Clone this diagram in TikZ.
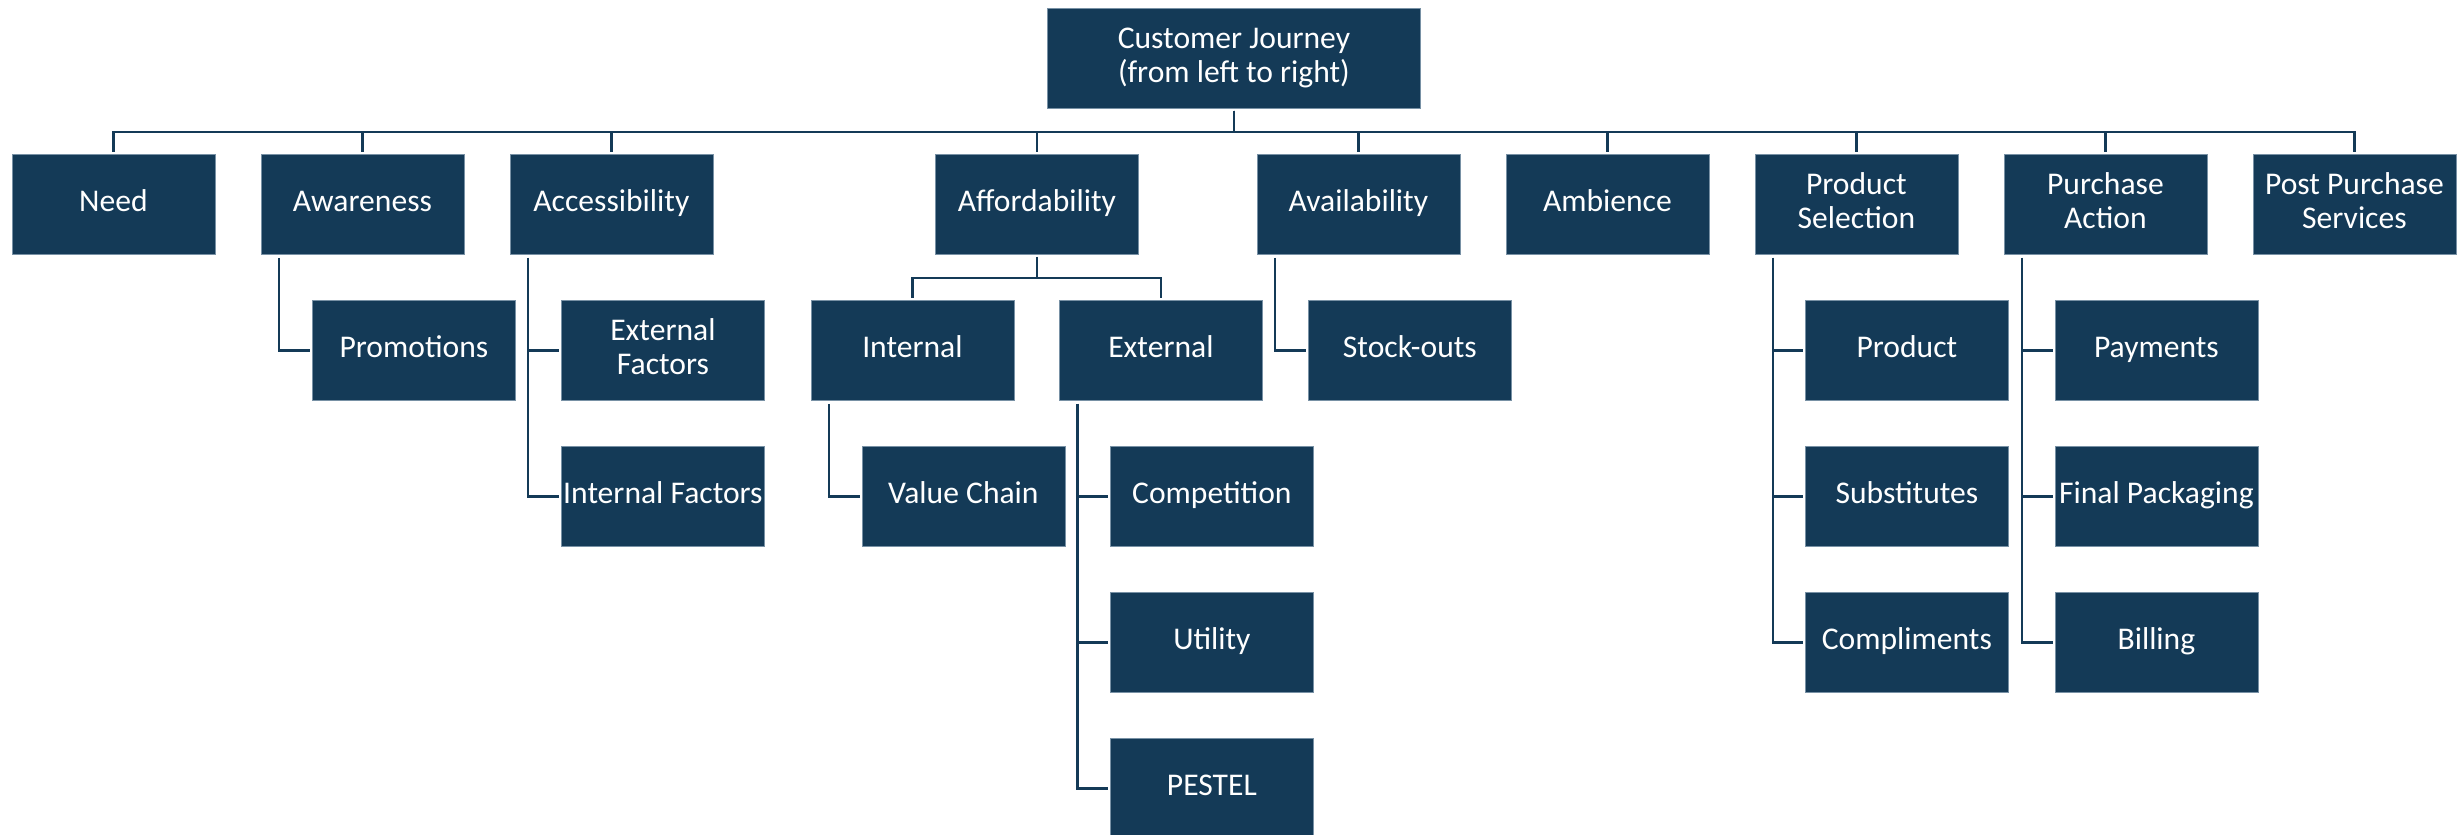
\documentclass[tikz,border=0pt]{standalone}
\usepackage{fontspec}
\setmainfont{Carlito}
\usetikzlibrary{calc}
\definecolor{boxblue}{RGB}{20,58,87}
\definecolor{boxrim}{RGB}{120,145,165}
\newcommand\boxstrut{\rule[-3.4pt]{0pt}{13.6pt}}
\tikzset{
  box/.style={fill=boxblue, draw=boxrim, line width=0.4pt, text=white,
    minimum width=101.5pt, minimum height=50pt, inner sep=0pt,
    anchor=north west, align=center, font=\fontsize{15.8}{17}\selectfont,
    execute at begin node=\boxstrut, execute at end node=\boxstrut},
  conn/.style={draw=boxblue, line width=1.3pt, shorten >=1pt},
}
\begin{document}
\begin{tikzpicture}[x=0.5pt, y=-0.5pt]
\useasboundingbox (0,0) rectangle (2458,835);
% root
\node[box, minimum width=186.5pt] (root) at (1047,8) {Customer Journey\\(from left to right)};
% level 1
\node[box] (need)    at (11.5,154)   {Need};
\node[box] (aware)   at (260.5,154)  {Awareness};
\node[box] (access)  at (509.5,154)  {Accessibility};
\node[box] (afford)  at (935,154)    {Affordability};
\node[box] (avail)   at (1256.5,154) {Availability};
\node[box] (amb)     at (1505.5,154) {Ambience};
\node[box] (prodsel) at (1754.5,154) {Product\\Selection};
\node[box] (purch)   at (2003.5,154) {Purchase\\Action};
\node[box] (post)    at (2252.5,154) {Post Purchase\\Services};
% level 2+
\node[box] (promo)   at (312,300)    {Promotions};
\node[box] (extf)    at (561,300)    {External\\Factors};
\node[box] (intf)    at (561,446)    {Internal Factors};
\node[box] (int)     at (810.5,300)  {Internal};
\node[box] (ext)     at (1059,300)   {External};
\node[box] (vchain)  at (861.5,446)  {Value Chain};
\node[box] (comp)    at (1110,446)   {Competition};
\node[box] (util)    at (1110,592)   {Utility};
\node[box] (pestel)  at (1110,738)   {PESTEL};
\node[box] (stock)   at (1308,300)   {Stock-outs};
\node[box] (prod)    at (1805,300)   {Product};
\node[box] (subst)   at (1805,446)   {Substitutes};
\node[box] (compl)   at (1805,592)   {Compliments};
\node[box] (pay)     at (2054.5,300) {Payments};
\node[box] (pack)    at (2054.5,446) {Final Packaging};
\node[box] (bill)    at (2054.5,592) {Billing};
% top bus
\foreach \n in {need,aware,access,afford,avail,amb,prodsel,purch,post}
  \draw[conn, shorten <=1pt] (root.south) -- ++(0,23) -| (\n.north);
% affordability sub bus
\foreach \n in {int,ext}
  \draw[conn, shorten <=1pt] (afford.south) -- ++(0,23) -| (\n.north);
% side connectors
\draw[conn] ($(aware.south west)+(18.5,3)$) |- (promo.west);
\draw[conn] ($(access.south west)+(18.5,3)$) |- (extf.west);
\draw[conn] ($(access.south west)+(18.5,3)$) |- (intf.west);
\draw[conn] ($(int.south west)+(18.5,3)$) |- (vchain.west);
\draw[conn] ($(ext.south west)+(18.5,3)$) |- (comp.west);
\draw[conn] ($(ext.south west)+(18.5,3)$) |- (util.west);
\draw[conn] ($(ext.south west)+(18.5,3)$) |- (pestel.west);
\draw[conn] ($(avail.south west)+(18.5,3)$) |- (stock.west);
\draw[conn] ($(prodsel.south west)+(18.5,3)$) |- (prod.west);
\draw[conn] ($(prodsel.south west)+(18.5,3)$) |- (subst.west);
\draw[conn] ($(prodsel.south west)+(18.5,3)$) |- (compl.west);
\draw[conn] ($(purch.south west)+(18.5,3)$) |- (pay.west);
\draw[conn] ($(purch.south west)+(18.5,3)$) |- (pack.west);
\draw[conn] ($(purch.south west)+(18.5,3)$) |- (bill.west);
\end{tikzpicture}
\end{document}
